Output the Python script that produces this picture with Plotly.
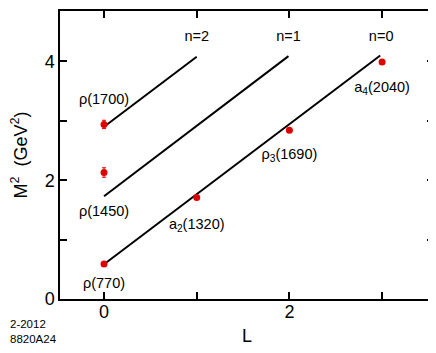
import plotly.graph_objects as go

# meson masses squared vs orbital angular momentum L
pt_L = [0, 0, 0, 1, 2, 3]
pt_m2 = [0.59, 2.13, 2.94, 1.71, 2.84, 3.99]
pt_err = [0, 0.08, 0.07, 0, 0, 0]

# Regge trajectories (start, end)
traj_names = ["n=0", "n=1", "n=2"]
traj_L = [[0, 2.98], [0, 1.99], [0, 1.0]]
traj_m2 = [[0.585, 4.10], [1.73, 4.09], [2.90, 4.08]]

# text labels
lab_text = ["\u03c1(770)", "\u03c1(1450)", "\u03c1(1700)", "a<sub>2</sub>(1320)",
            "\u03c1<sub>3</sub>(1690)", "a<sub>4</sub>(2040)"]
lab_L = [0, 0, 0, 1, 2, 3]
lab_m2 = [0.25, 1.46, 3.35, 1.24, 2.42, 3.55]
n_lab_L = [2.99, 1.99, 1.0]
n_lab_m2 = [4.4, 4.4, 4.4]

FONT = "Liberation Sans, Arial, sans-serif"

fig = go.Figure()
for xs, ys in zip(traj_L, traj_m2):
    fig.add_trace(go.Scatter(x=xs, y=ys, mode="lines",
                             line=dict(color="black", width=2),
                             showlegend=False, hoverinfo="skip"))

fig.add_trace(go.Scatter(
    x=pt_L, y=pt_m2, mode="markers",
    marker=dict(color="#e00000", size=7),
    error_y=dict(type="data", array=pt_err, visible=True,
                 color="#e00000", thickness=1, width=2),
    showlegend=False))

fig.add_trace(go.Scatter(x=lab_L, y=lab_m2, mode="text", text=lab_text,
                         textfont=dict(family=FONT, size=14.5, color="black"),
                         showlegend=False, hoverinfo="skip"))
fig.add_trace(go.Scatter(x=n_lab_L, y=n_lab_m2, mode="text", text=traj_names,
                         textfont=dict(family=FONT, size=14.5, color="black"),
                         showlegend=False, hoverinfo="skip"))

# page body adds an 8px offset; positions below compensate for it
fig.add_annotation(text="2-2012<br>8820A24", xref="paper", yref="paper",
                   x=-0.139, y=-0.06, xanchor="left", yanchor="top",
                   align="left", showarrow=False,
                   font=dict(family=FONT, size=11.5, color="black"))

axis_common = dict(showline=True, linecolor="black", linewidth=1.5,
                   mirror="ticks", ticks="inside", ticklen=7,
                   tickcolor="black", tickwidth=1.5, showgrid=False,
                   zeroline=False,
                   minor=dict(ticks="inside", ticklen=7, tickcolor="black",
                              tickwidth=1.5, showgrid=False),
                   tickfont=dict(family=FONT, size=18, color="black"))

fig.update_xaxes(range=[-0.475, 3.56], tickvals=[0, 2],
                 minor_tickvals=[1, 3],
                 ticklabelstandoff=-4,
                 title=dict(text="L", font=dict(family=FONT, size=18),
                            standoff=8),
                 **axis_common)
fig.update_yaxes(range=[0, 4.85], tickvals=[0, 2, 4],
                 minor_tickvals=[1, 3],
                 title=dict(text="M<sup>2</sup>  (GeV<sup>2</sup>)",
                            font=dict(family=FONT, size=18), standoff=14),
                 **axis_common)

fig.update_layout(width=436, height=353,
                  margin=dict(l=52, r=10, t=1, b=62),
                  plot_bgcolor="white", paper_bgcolor="white",
                  font=dict(family=FONT, color="black"))

fig.write_html("out.html")
